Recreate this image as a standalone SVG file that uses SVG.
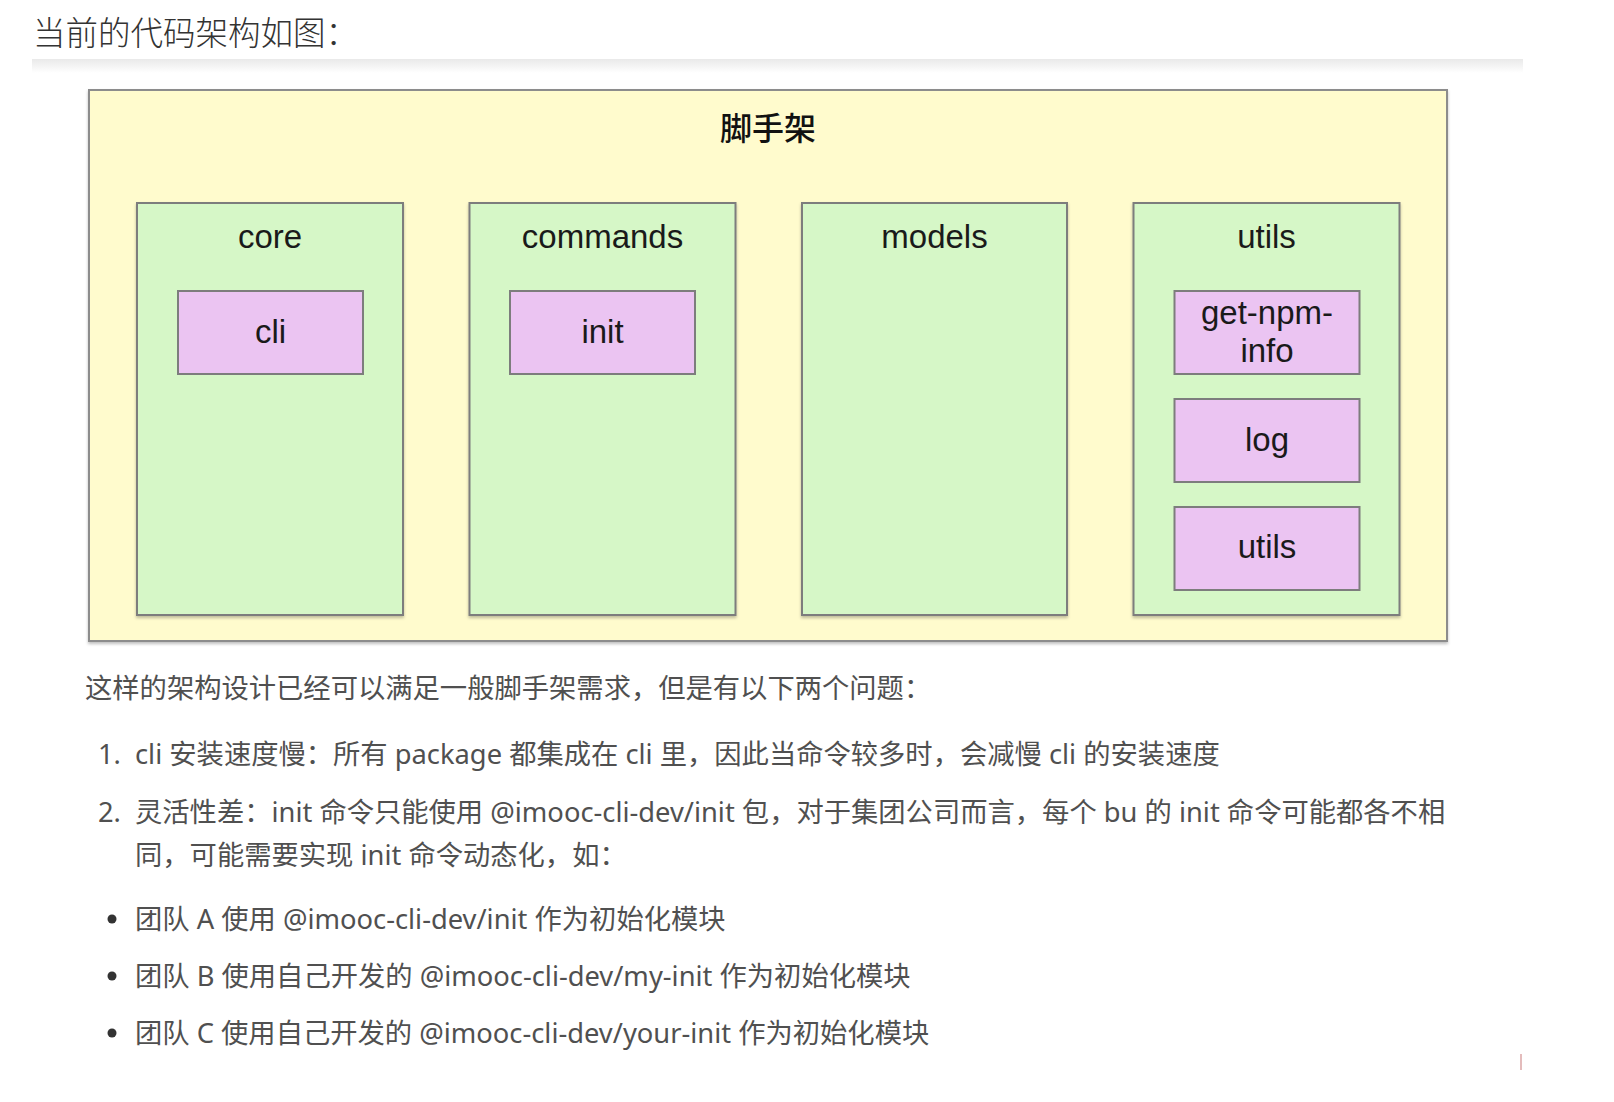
<svg xmlns="http://www.w3.org/2000/svg" width="1614" height="1102" viewBox="0 0 1614 1102">
<defs>
<linearGradient id="sep" x1="0" y1="0" x2="0" y2="1">
<stop offset="0" stop-color="#e9e9e9"/>
<stop offset="1" stop-color="#ffffff"/>
</linearGradient>
<filter id="sh" x="-5%" y="-5%" width="110%" height="115%">
<feDropShadow dx="0" dy="2" stdDeviation="1.5" flood-color="#000" flood-opacity="0.25"/>
</filter>
</defs>
<style>
.outer{fill:#fffbcd;stroke:#8c8c8c;stroke-width:2}
.cont{fill:#d6f7c7;stroke:#7d7d7d;stroke-width:2}
.item{fill:#ebc4f2;stroke:#7d7d7d;stroke-width:2}
.lbl{font-family:"Liberation Sans",Arial,sans-serif;font-size:33px;fill:#1a1a1a;text-anchor:middle}
.title{font-family:"Noto Sans CJK SC","Noto Sans",sans-serif;font-size:32.5px;fill:#333;font-weight:300}
.body{font-family:"Noto Sans","Noto Sans CJK SC",sans-serif;font-size:27.3px;fill:#505050}
.cjk{font-family:"Noto Sans CJK SC",sans-serif;font-size:32px;fill:#111;font-weight:500;text-anchor:middle}
</style>
<rect width="1614" height="1102" fill="#ffffff"/>
<text class="title" x="33" y="45">当前的代码架构如图：</text>
<rect x="32" y="59" width="1491" height="14" fill="url(#sep)"/>

<g id="scaffold">
<rect class="outer" x="89" y="90" width="1358" height="551" filter="url(#sh)"/>
<text class="cjk" x="768" y="140">脚手架</text>
</g>

<g id="core">
<rect class="cont" x="137" y="203" width="266" height="412" filter="url(#sh)"/>
<text class="lbl" x="270" y="248">core</text>
</g>
<g id="cli">
<rect class="item" x="178" y="291" width="185" height="83"/>
<text class="lbl" x="270.5" y="343">cli</text>
</g>

<g id="commands">
<rect class="cont" x="469.5" y="203" width="266" height="412" filter="url(#sh)"/>
<text class="lbl" x="602.5" y="248">commands</text>
</g>
<g id="init">
<rect class="item" x="510" y="291" width="185" height="83"/>
<text class="lbl" x="602.5" y="343">init</text>
</g>

<g id="models">
<rect class="cont" x="802" y="203" width="265" height="412" filter="url(#sh)"/>
<text class="lbl" x="934.5" y="248">models</text>
</g>

<g id="utils">
<rect class="cont" x="1133.5" y="203" width="266" height="412" filter="url(#sh)"/>
<text class="lbl" x="1266.5" y="248">utils</text>
</g>
<g id="get-npm-info">
<rect class="item" x="1174.5" y="291" width="185" height="83"/>
<text class="lbl" x="1267" y="324">get-npm-</text>
<text class="lbl" x="1267" y="362">info</text>
</g>
<g id="log">
<rect class="item" x="1174.5" y="399" width="185" height="83"/>
<text class="lbl" x="1267" y="451">log</text>
</g>
<g id="utils-item">
<rect class="item" x="1174.5" y="507" width="185" height="83"/>
<text class="lbl" x="1267" y="558">utils</text>
</g>

<g id="connectors"></g>

<g id="text">
<text class="body" x="85" y="698">这样的架构设计已经可以满足一般脚手架需求，但是有以下两个问题：</text>
<text class="body" x="98" y="764">1.</text>
<text class="body" x="135" y="764">cli 安装速度慢：所有 package 都集成在 cli 里，因此当命令较多时，会减慢 cli 的安装速度</text>
<text class="body" x="98" y="822">2.</text>
<text class="body" x="135" y="822">灵活性差：init 命令只能使用 @imooc-cli-dev/init 包，对于集团公司而言，每个 bu 的 init 命令可能都各不相</text>
<text class="body" x="135" y="865">同，可能需要实现 init 命令动态化，如：</text>
<circle cx="112" cy="919" r="4.5" fill="#333"/>
<text class="body" x="135" y="929">团队 A 使用 @imooc-cli-dev/init 作为初始化模块</text>
<circle cx="112" cy="976" r="4.5" fill="#333"/>
<text class="body" x="135" y="986">团队 B 使用自己开发的 @imooc-cli-dev/my-init 作为初始化模块</text>
<circle cx="112" cy="1033" r="4.5" fill="#333"/>
<text class="body" x="135" y="1043">团队 C 使用自己开发的 @imooc-cli-dev/your-init 作为初始化模块</text>
</g>
<rect x="1520" y="1054" width="2" height="16" fill="#d9a0a0" opacity="0.7"/>
</svg>
